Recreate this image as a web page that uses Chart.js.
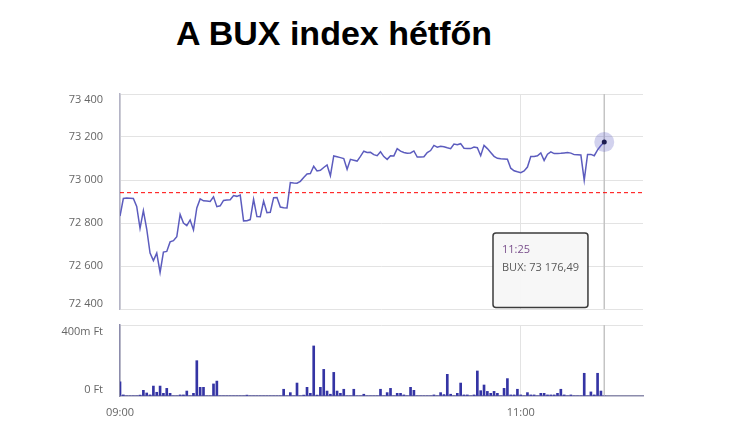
<!DOCTYPE html>
<html lang="hu">
<head>
<meta charset="UTF-8" />
<title>A BUX index hétfőn</title>
<script src="https://cdn.jsdelivr.net/npm/chart.js"></script>
<style>
  body { margin: 0; background: #fff; width: 730px; height: 433px; position: relative; overflow: hidden; }
  h1 { position: absolute; left: 0; top: 14px; width: 668px; margin: 0; text-align: center;
       font: bold 34px/38px "Liberation Sans", Arial, sans-serif; color: #000; }
  canvas { position: absolute; left: 0; }
  #buxChart { top: 84px; }
  #volChart { top: 319px; }
</style>
</head>
<body>
<h1>A BUX index hétfőn</h1>
<canvas id="buxChart" width="660" height="235"></canvas>
<canvas id="volChart" width="660" height="114"></canvas>

<script>
// percenkénti adatok 09:00-tól 11:25-ig
const startMinute = 9 * 60;
const buxValues = [
  72832, 72914, 72916, 72915, 72914, 72877, 72775, 72858, 72772, 72660,
  72625, 72660, 72570, 72665, 72668, 72712, 72718, 72736, 72840, 72800,
  72788, 72814, 72768, 72870, 72912, 72903, 72902, 72900, 72922, 72876,
  72880, 72905, 72907, 72908, 72928, 72924, 72930, 72810, 72811, 72816,
  72910, 72830, 72829, 72902, 72848, 72850, 72918, 72919, 72874, 72871,
  72870, 72988, 72986, 72985, 72994, 73012, 73028, 73030, 73064, 73042,
  73045, 73058, 73070, 73020, 73112, 73108, 73104, 73100, 73050, 73096,
  73092, 73088, 73110, 73134, 73128, 73129, 73118, 73113, 73131, 73109,
  73096, 73113, 73112, 73146, 73134, 73128, 73124, 73126, 73135, 73107,
  73107, 73108, 73128, 73137, 73161, 73153, 73157, 73155, 73150, 73146,
  73167, 73164, 73169, 73148, 73146, 73146, 73153, 73150, 73113, 73161,
  73146, 73128, 73110, 73101, 73099, 73098, 73097, 73055, 73043, 73038,
  73034, 73042, 73060, 73109, 73109, 73113, 73126, 73091, 73120, 73131,
  73123, 73123, 73124, 73126, 73128, 73125, 73118, 73117, 73116, 72999,
  73119, 73119, 73113, 73140, 73160, 73176.49
];
// forgalom, millió Ft
const volumeValues = [
  80, 6, 0, 0, 0, 0, 5, 32, 17, 6,
  56, 21, 56, 15, 43, 15, 0, 0, 6, 6,
  28, 0, 15, 199, 49, 49, 0, 0, 68, 84,
  0, 0, 0, 0, 0, 0, 0, 0, 5, 0,
  0, 0, 0, 0, 0, 0, 0, 0, 0, 38,
  0, 19, 0, 73, 0, 5, 49, 15, 282, 5,
  49, 150, 28, 10, 133, 28, 15, 38, 0, 0,
  38, 0, 0, 10, 0, 0, 0, 0, 38, 0,
  19, 43, 0, 15, 15, 6, 0, 49, 32, 0,
  0, 0, 0, 0, 6, 0, 19, 8, 122, 10,
  0, 15, 73, 6, 6, 0, 6, 141, 30, 62,
  26, 15, 26, 15, 0, 43, 98, 6, 6, 38,
  6, 0, 19, 6, 6, 0, 15, 15, 6, 6,
  6, 15, 38, 6, 0, 6, 0, 0, 0, 128,
  0, 23, 6, 128, 28, 0
];
const prevClose = 72941;
const buxTicks = [72400, 72600, 72800, 73000, 73200, 73400];
const volumeTicks = [0, 400];
const timeTicks = [0, 120];
const xMax = 156.6;
const hoverIndex = buxValues.length - 1;

const font = "'Open Sans', 'DejaVu Sans', sans-serif";

function timeLabel(m) {
  const t = startMinute + Math.round(m);
  return String(Math.floor(t / 60)).padStart(2, "0") + ":" + String(t % 60).padStart(2, "0");
}
function fmt(v) {
  return String(Math.round(v)).replace(/\B(?=(\d{3})+(?!\d))/g, " ");
}
function fmtDec(v) {
  const parts = v.toFixed(2).split(".");
  return fmt(Number(parts[0])) + "," + parts[1];
}

// függőleges vonal az aktuális pontnál
const crosshair = {
  id: "crosshair",
  beforeDatasetsDraw(chart) {
    const x = chart.scales.x.getPixelForValue(hoverIndex);
    const { top, bottom } = chart.chartArea;
    const ctx = chart.ctx;
    ctx.save();
    ctx.strokeStyle = "#c4c4c4";
    ctx.lineWidth = 1.5;
    ctx.beginPath();
    ctx.moveTo(x, top);
    ctx.lineTo(x, bottom);
    ctx.stroke();
    ctx.restore();
  },
};

Chart.Tooltip.positioners.fixedBox = function () {
  return { x: 496, y: 149 };
};

const xScale = (showLabels) => ({
  type: "linear",
  min: 0,
  max: xMax,
  offset: false,
  afterBuildTicks: (s) => { s.ticks = timeTicks.map((v) => ({ value: v })); },
  afterFit: (s) => {
    s.height = showLabels ? 37 : 0;
    s.paddingLeft = 0;
    s.paddingRight = 0;
  },
  grid: { color: "#e3e3e3", drawTicks: false, offset: false },
  border: showLabels ? { color: "#8c8cac", width: 1.5 } : { display: false },
  ticks: {
    display: showLabels,
    padding: 10,
    color: "#666",
    font: { family: font, size: 11 },
    callback: (v) => timeLabel(v),
  },
});

const yFit = (s) => {
  s.width = 120;
  s.paddingTop = 0;
  s.paddingBottom = 0;
};

const buxChart = new Chart(document.getElementById("buxChart"), {
  type: "line",
  data: {
    datasets: [
      {
        label: "BUX",
        data: buxValues.map((v, i) => ({ x: i, y: v })),
        borderColor: "#5c5cbe",
        borderWidth: 1.5,
        tension: 0,
        pointRadius: (c) => (c.dataIndex === hoverIndex ? 2.5 : 0),
        pointBackgroundColor: "#1c1c50",
        pointBorderWidth: 0,
      },
      {
        label: "halo",
        data: [{ x: hoverIndex, y: buxValues[hoverIndex] }],
        showLine: false,
        pointRadius: 10,
        pointBackgroundColor: "rgba(105,105,200,0.3)",
        pointBorderWidth: 0,
      },
      {
        label: "előző záró",
        data: [{ x: 0, y: prevClose }, { x: xMax, y: prevClose }],
        borderColor: "#ff0000",
        borderWidth: 1,
        borderDash: [4, 3],
        pointRadius: 0,
      },
    ],
  },
  options: {
    responsive: false,
    animation: false,
    events: [],
    layout: { padding: { top: 6, bottom: 6, left: 0, right: 17 } },
    scales: {
      x: xScale(false),
      y: {
        min: buxTicks[0],
        max: buxTicks[buxTicks.length - 1],
        afterBuildTicks: (s) => { s.ticks = buxTicks.map((v) => ({ value: v })); },
        afterFit: yFit,
        grid: { color: "#e3e3e3", drawTicks: false },
        border: { color: "#b4b4c6", width: 1.5 },
        ticks: {
          padding: 17,
          color: "#666",
          font: { family: font, size: 11, lineHeight: 1.0 },
          callback: (v) => {
            if (v === buxTicks[buxTicks.length - 1]) return ["", fmt(v)];
            if (v === buxTicks[0]) return [fmt(v), ""];
            return fmt(v);
          },
        },
      },
    },
    plugins: {
      legend: { display: false },
      tooltip: {
        position: "fixedBox",
        xAlign: "left",
        yAlign: "top",
        caretSize: 0,
        caretPadding: 0,
        cornerRadius: 3,
        backgroundColor: "rgba(247,247,247,0.96)",
        borderColor: "#3c3c3c",
        borderWidth: 1.5,
        titleColor: "#7a4f8c",
        bodyColor: "#5a5a5a",
        titleFont: { family: font, size: 11, weight: "normal" },
        bodyFont: { family: font, size: 11 },
        titleMarginBottom: 5,
        padding: { top: 10, left: 9, right: 9, bottom: 33 },
        displayColors: false,
        filter: (item) => item.datasetIndex === 0,
        callbacks: {
          title: (items) => timeLabel(items[0].parsed.x),
          label: (item) => "BUX: " + fmtDec(item.parsed.y),
        },
      },
    },
  },
  plugins: [crosshair],
});

buxChart.tooltip.setActiveElements([{ datasetIndex: 0, index: hoverIndex }], { x: 0, y: 0 });
buxChart.update();

new Chart(document.getElementById("volChart"), {
  type: "bar",
  data: {
    datasets: [
      {
        label: "Forgalom",
        data: volumeValues.map((v, i) => ({ x: i, y: v })),
        backgroundColor: "#3434a4",
        barThickness: 2,
      },
    ],
  },
  options: {
    responsive: false,
    animation: false,
    events: [],
    layout: { padding: { top: 6, bottom: 0, left: 0, right: 17 } },
    scales: {
      x: xScale(true),
      y: {
        min: volumeTicks[0],
        max: volumeTicks[1],
        afterBuildTicks: (s) => { s.ticks = volumeTicks.map((v) => ({ value: v })); },
        afterFit: yFit,
        grid: {
          color: (c) => (c.tick && c.tick.value === 0 ? "rgba(0,0,0,0)" : "#e3e3e3"),
          drawTicks: false,
        },
        border: { color: "#8c8cac", width: 1.5 },
        ticks: {
          padding: 17,
          color: "#666",
          font: { family: font, size: 11 },
          callback: (v) => (v === 0 ? ["0 Ft", ""] : ["", v + "m Ft"]),
        },
      },
    },
    plugins: { legend: { display: false }, tooltip: { enabled: false } },
  },
  plugins: [crosshair],
});
</script>
</body>
</html>
